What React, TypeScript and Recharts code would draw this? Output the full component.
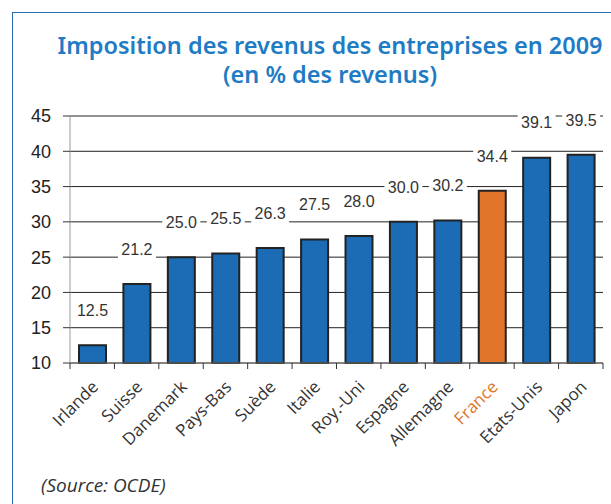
import React from 'react';
import { BarChart, Bar, XAxis, YAxis, CartesianGrid, Cell, LabelList } from 'recharts';

const countries = ['Irlande', 'Suisse', 'Danemark', 'Pays-Bas', 'Suède', 'Italie', 'Roy.-Uni', 'Espagne', 'Allemagne', 'France', 'Etats-Unis', 'Japon'];
const rates = [12.5, 21.2, 25.0, 25.5, 26.3, 27.5, 28.0, 30.0, 30.2, 34.4, 39.1, 39.5];
const yTicks = [10, 15, 20, 25, 30, 35, 40, 45];
const highlight = 'France';

const data = countries.map((name, i) => ({ name, rate: rates[i] }));

const W = 611;
const H = 504;
const PLOT_LEFT = 70;
const PLOT_RIGHT = 8;
const PLOT_TOP = 116;
const PLOT_BOTTOM = 363;
const BAND = (W - PLOT_LEFT - PLOT_RIGHT) / countries.length;

const BLUE = '#1b6cb4';
const ORANGE = '#e0752a';

const CountryTick = (props: any) => {
  const { x, payload, index } = props;
  const isLast = index === countries.length - 1;
  const hot = payload.value === highlight;
  return (
    <g>
      <line x1={x - BAND / 2} y1={PLOT_BOTTOM} x2={x - BAND / 2} y2={PLOT_BOTTOM + 6} stroke="#333" />
      {isLast && <line x1={x + BAND / 2} y1={PLOT_BOTTOM} x2={x + BAND / 2} y2={PLOT_BOTTOM + 6} stroke="#333" />}
      <text
        transform={`translate(${x + 7},${PLOT_BOTTOM + 25}) rotate(-45)`}
        textAnchor="end"
        fontFamily="'Open Sans', sans-serif"
        fontSize={17}
        fill={hot ? ORANGE : '#333'}
      >
        {payload.value}
      </text>
    </g>
  );
};

const ValueLabel = (props: any) => {
  const { x, y, width, value } = props;
  const cx = x + width / 2;
  const cy = y - 35;
  const txt = Number(value).toFixed(1);
  const w = txt.length * 8.5 + 4;
  return (
    <g>
      <rect x={cx - w / 2} y={cy - 10} width={w} height={20} fill="#fff" />
      <text x={cx} y={cy} dy="0.36em" textAnchor="middle" fontFamily="'Liberation Sans', Arial, sans-serif" fontSize={16} fill="#333">
        {txt}
      </text>
    </g>
  );
};

export default function App() {
  return (
    <div style={{ position: 'absolute', left: 0, top: 0, width: W, height: H, background: '#fff', overflow: 'hidden' }}>
      <div style={{ position: 'absolute', left: 12, top: 12, width: W, height: H, border: '1.5px solid #2a6ab0' }} />
      <div
        style={{
          position: 'absolute',
          left: 30,
          width: 600,
          top: 31,
          textAlign: 'center',
          color: '#1e7bc4',
          fontFamily: "'Noto Sans', sans-serif",
          fontWeight: 600,
          fontSize: 23.5,
          lineHeight: '29px',
        }}
      >
        Imposition des revenus des entreprises en 2009
        <br />
        (en % des revenus)
      </div>
      <div style={{ position: 'absolute', left: 0, top: 0 }}>
        <BarChart width={W} height={H} data={data} margin={{ top: PLOT_TOP, right: PLOT_RIGHT, left: 0, bottom: 0 }}>
          <CartesianGrid horizontal vertical={false} stroke="#222" strokeWidth={1} />
          <XAxis
            dataKey="name"
            height={H - PLOT_BOTTOM}
            interval={0}
            tickLine={false}
            axisLine={{ stroke: '#777' }}
            tick={<CountryTick />}
          />
          <YAxis
            width={PLOT_LEFT}
            domain={[10, 45]}
            ticks={yTicks}
            interval={0}
            tickSize={7}
            tickMargin={12}
            axisLine={{ stroke: '#999' }}
            tickLine={{ stroke: '#333' }}
            tick={{ fill: '#222', fontSize: 18, fontFamily: "'Liberation Sans', Arial, sans-serif" }}
          />
          <Bar dataKey="rate" barSize={27} stroke="#222" strokeWidth={2} isAnimationActive={false}>
            {data.map((d) => (
              <Cell key={d.name} fill={d.name === highlight ? ORANGE : BLUE} />
            ))}
            <LabelList dataKey="rate" content={<ValueLabel />} />
          </Bar>
        </BarChart>
      </div>
      <div
        style={{
          position: 'absolute',
          left: 41,
          top: 472,
          fontFamily: "'Open Sans', sans-serif",
          fontStyle: 'italic',
          fontSize: 19,
          color: '#333',
        }}
      >
        (Source: OCDE)
      </div>
    </div>
  );
}
